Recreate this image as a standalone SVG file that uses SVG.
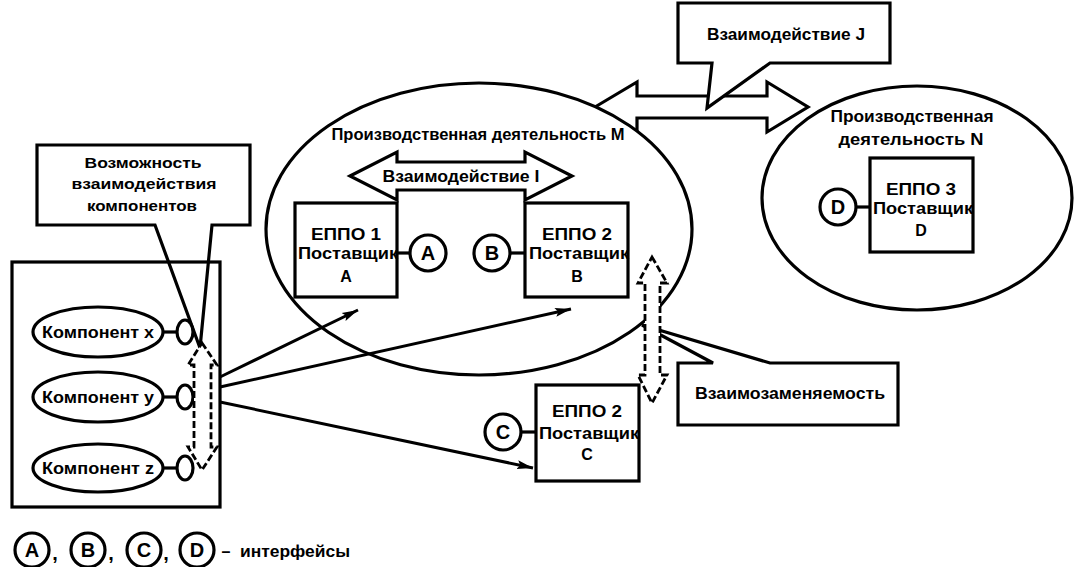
<svg xmlns="http://www.w3.org/2000/svg" width="1077" height="567" viewBox="0 0 1077 567">
<style>
.s{fill:#fff;stroke:#000;stroke-width:3.2;stroke-linejoin:miter}
.n{fill:none;stroke:#000;stroke-width:3.2}
.d{fill:#fff;stroke:#000;stroke-width:2.8;stroke-dasharray:7 3}
.t{font-family:"Liberation Sans",Arial,sans-serif;font-weight:bold;fill:#000;text-anchor:middle}
.f14{font-size:14px}
.f16{font-size:16px}
.f20{font-size:20px}
.c{stroke:#000;stroke-width:3;fill:none;marker-end:url(#ah)}
</style>
<defs>
<marker id="ah" markerUnits="userSpaceOnUse" markerWidth="18" markerHeight="10" refX="16" refY="5" orient="auto">
<path d="M0,0.5 L16,5 L0,9.5 L3,5 z" fill="#000"/>
</marker>
</defs>
<rect width="1077" height="567" fill="#fff"/>

<g id="interaction-J-arrow">
<polygon class="s" points="595,107 637,82 637,96 767,96 767,82 808,107 767,132 767,118 637,118 637,132"/>
</g>

<g id="activity-M">
<ellipse class="s" cx="479" cy="229" rx="213" ry="146"/>
<text class="t f16" x="478" y="140" textLength="293" lengthAdjust="spacingAndGlyphs">Производственная деятельность М</text>
</g>

<g id="activity-N">
<ellipse class="s" cx="917" cy="198" rx="155" ry="112"/>
<text class="t f16" x="912" y="122" textLength="163" lengthAdjust="spacingAndGlyphs">Производственная</text>
<text class="t f16" x="911" y="145" textLength="145" lengthAdjust="spacingAndGlyphs">деятельность N</text>
</g>

<g id="callout-J">
<path class="s" d="M678,3 H890 V63 H770 L707,108 L712,63 H678 Z"/>
<text class="t f16" x="786" y="40" textLength="158" lengthAdjust="spacingAndGlyphs">Взаимодействие J</text>
</g>

<g id="interaction-I">
<polygon class="s" points="350,176 397,152 397,162 525,162 525,152 572,176 525,200 525,190 397,190 397,200"/>
<text class="t f16" x="461" y="182" textLength="157" lengthAdjust="spacingAndGlyphs">Взаимодействие I</text>
</g>

<g id="connectors-interfaces">
<line class="n" x1="397" y1="253" x2="410" y2="253"/>
<line class="n" x1="510" y1="253" x2="525" y2="253"/>
<line class="n" x1="855" y1="207" x2="870" y2="207"/>
<line class="n" x1="521" y1="432" x2="536" y2="432"/>
</g>

<g id="eppo1">
<rect class="s" x="295" y="203" width="102" height="94"/>
<text class="t f16" x="346" y="240" textLength="70" lengthAdjust="spacingAndGlyphs">ЕППО 1</text>
<text class="t f16" x="348" y="259" textLength="100" lengthAdjust="spacingAndGlyphs">Поставщик</text>
<text class="t f16" x="346" y="282">А</text>
</g>

<g id="eppo2-B">
<rect class="s" x="525" y="203" width="103" height="94"/>
<text class="t f16" x="577" y="240" textLength="70" lengthAdjust="spacingAndGlyphs">ЕППО 2</text>
<text class="t f16" x="579" y="259" textLength="100" lengthAdjust="spacingAndGlyphs">Поставщик</text>
<text class="t f16" x="577" y="282">В</text>
</g>

<g id="eppo3">
<rect class="s" x="870" y="158" width="103" height="94"/>
<text class="t f16" x="921" y="195" textLength="70" lengthAdjust="spacingAndGlyphs">ЕППО 3</text>
<text class="t f16" x="923" y="214" textLength="100" lengthAdjust="spacingAndGlyphs">Поставщик</text>
<text class="t f16" x="921" y="236">D</text>
</g>

<g id="eppo2-C">
<rect class="s" x="536" y="385" width="103" height="96"/>
<text class="t f16" x="587" y="417" textLength="70" lengthAdjust="spacingAndGlyphs">ЕППО 2</text>
<text class="t f16" x="589" y="439" textLength="100" lengthAdjust="spacingAndGlyphs">Поставщик</text>
<text class="t f16" x="587" y="460">С</text>
</g>

<g id="iface-A"><circle class="s" cx="428" cy="253" r="18"/><text class="t f20" x="428" y="260">А</text></g>
<g id="iface-B"><circle class="s" cx="492" cy="253" r="18"/><text class="t f20" x="492" y="260">В</text></g>
<g id="iface-C"><circle class="s" cx="503" cy="432" r="18"/><text class="t f20" x="503" y="439">С</text></g>
<g id="iface-D"><circle class="s" cx="838" cy="207" r="18"/><text class="t f20" x="838" y="214">D</text></g>

<g id="callout-components">
<path class="s" d="M37,145 H250 V225 H212 L200,348 L155,225 H37 Z"/>
<text class="t f14" x="143" y="168" textLength="117" lengthAdjust="spacingAndGlyphs">Возможность</text>
<text class="t f14" x="144" y="189" textLength="145" lengthAdjust="spacingAndGlyphs">взаимодействия</text>
<text class="t f14" x="142" y="211" textLength="110" lengthAdjust="spacingAndGlyphs">компонентов</text>
</g>

<g id="component-system">
<rect class="n" x="12" y="262" width="208" height="245"/>
<g id="comp-x">
<ellipse class="s" cx="98" cy="332" rx="65" ry="25"/>
<text class="t f16" x="98" y="338" textLength="112" lengthAdjust="spacingAndGlyphs">Компонент x</text>
<line class="n" x1="163" y1="332" x2="177" y2="332"/>
<ellipse class="s" cx="185" cy="332" rx="8" ry="12"/>
</g>
<g id="comp-y">
<ellipse class="s" cx="98" cy="397" rx="65" ry="25"/>
<text class="t f16" x="98" y="403" textLength="112" lengthAdjust="spacingAndGlyphs">Компонент y</text>
<line class="n" x1="163" y1="397" x2="177" y2="397"/>
<ellipse class="s" cx="185" cy="397" rx="8" ry="12"/>
</g>
<g id="comp-z">
<ellipse class="s" cx="98" cy="468" rx="65" ry="24"/>
<text class="t f16" x="98" y="474" textLength="112" lengthAdjust="spacingAndGlyphs">Компонент z</text>
<line class="n" x1="163" y1="468" x2="177" y2="468"/>
<ellipse class="s" cx="185" cy="468" rx="8" ry="12"/>
</g>
</g>

<g id="callout-interchange">
<path class="s" d="M678,363 H713 L642,325 L770,363 H898 V425 H678 Z"/>
<text class="t f16" x="790" y="399" textLength="190" lengthAdjust="spacingAndGlyphs">Взаимозаменяемость</text>
</g>

<g id="connectors">
<line class="c" x1="220" y1="377" x2="358" y2="310"/>
<line class="c" x1="220" y1="387" x2="571" y2="309"/>
<line class="c" x1="220" y1="402" x2="533" y2="468"/>
<polygon class="d" points="202,343 217,365 211,365 211,447 217,447 202,470 188,447 194,447 194,365 188,365"/>
<polygon class="d" points="652,257 667,283 660,283 660,375 667,375 652,403 638,375 645,375 645,283 638,283"/>
</g>

<g id="legend">
<circle class="s" cx="32" cy="550" r="17"/><text class="t f20" x="32" y="557">А</text>
<text class="t f20" x="55" y="560">,</text>
<circle class="s" cx="88" cy="550" r="17"/><text class="t f20" x="88" y="557">В</text>
<text class="t f20" x="111" y="560">,</text>
<circle class="s" cx="144" cy="550" r="17"/><text class="t f20" x="144" y="557">С</text>
<text class="t f20" x="166" y="560">,</text>
<circle class="s" cx="197" cy="550" r="17"/><text class="t f20" x="197" y="557">D</text>
<text class="t f16" x="226" y="557">–</text>
<text class="t f16" x="295" y="557" textLength="110" lengthAdjust="spacingAndGlyphs">интерфейсы</text>
</g>
</svg>
